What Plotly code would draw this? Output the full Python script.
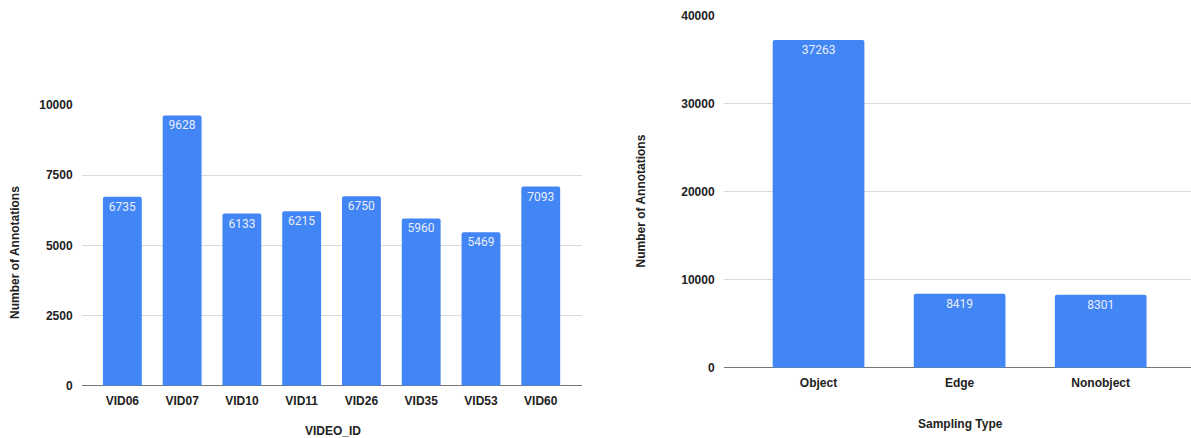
import plotly.graph_objects as go

# Left chart data
video_ids = ["VID06", "VID07", "VID10", "VID11", "VID26", "VID35", "VID53", "VID60"]
video_counts = [6735, 9628, 6133, 6215, 6750, 5960, 5469, 7093]
left_ticks = [0, 2500, 5000, 7500, 10000]

# Right chart data
sampling_types = ["Object", "Edge", "Nonobject"]
sampling_counts = [37263, 8419, 8301]
right_ticks = [0, 10000, 20000, 30000, 40000]

W, H = 1191, 438
BLUE = "#4285f4"
GRID = "#dadada"
TICKFONT = dict(family="Liberation Sans, Arial, sans-serif", size=12, color="#222222")
LABELFONT = dict(family="Roboto, sans-serif", size=12, color="#e8effc")

def px_x(x):
    return x / W

def px_y(y):
    return 1 - y / H

fig = go.Figure()

fig.add_trace(go.Bar(
    x=video_ids, y=video_counts, xaxis="x", yaxis="y",
    marker=dict(color=BLUE, cornerradius=2, line=dict(width=0)),
    width=0.65,
    text=[str(v) for v in video_counts], textposition="inside",
    insidetextanchor="end", textangle=0, textfont=LABELFONT,
    constraintext="none", showlegend=False, hoverinfo="x+y",
))

fig.add_trace(go.Bar(
    x=sampling_types, y=sampling_counts, xaxis="x2", yaxis="y2",
    marker=dict(color=BLUE, cornerradius=2, line=dict(width=0)),
    width=0.65,
    text=[str(v) for v in sampling_counts], textposition="inside",
    insidetextanchor="end", textangle=0, textfont=LABELFONT,
    constraintext="none", showlegend=False, hoverinfo="x+y",
))

def yaxis_cfg(domain, rng, ticks):
    return dict(
        domain=domain, range=rng, tickvals=ticks,
        ticktext=[f"<b>{t}</b>" for t in ticks],
        tickfont=TICKFONT, showgrid=True, gridcolor=GRID, gridwidth=1,
        zeroline=True, zerolinecolor="#777777", zerolinewidth=1,
        showline=False, ticks="outside", ticklen=6, tickcolor="rgba(0,0,0,0)",
        fixedrange=True, automargin=False,
    )

def xaxis_cfg(domain, rng, cats):
    return dict(
        domain=domain, range=rng, type="category",
        tickvals=cats, ticktext=[f"<b>{c}</b>" for c in cats],
        tickfont=TICKFONT, showgrid=False, showline=False, zeroline=False,
        ticks="outside", ticklen=4, tickcolor="rgba(0,0,0,0)",
        fixedrange=True, automargin=False,
    )

fig.update_layout(
    width=W, height=H, autosize=False,
    margin=dict(l=0, r=0, t=0, b=0, pad=0, autoexpand=False),
    paper_bgcolor="white", plot_bgcolor="white",
    bargap=0.35,
    xaxis=xaxis_cfg([px_x(82), px_x(582)], [-0.675, 7.69], video_ids),
    yaxis=yaxis_cfg([px_y(385.7), px_y(105)], [0, 10000], left_ticks),
    xaxis2=xaxis_cfg([px_x(724), 1.0], [-0.67, 2.64], sampling_types),
    yaxis2=yaxis_cfg([px_y(367.7), px_y(16)], [0, 40000], right_ticks),
)
fig.layout.yaxis2.anchor = "x2"
fig.layout.xaxis2.anchor = "y2"

title_font = dict(family="Liberation Sans, Arial, sans-serif", size=12, color="#222222")
annos = [
    dict(text="<b>VIDEO_ID</b>", x=px_x(332.5), y=px_y(431), textangle=0),
    dict(text="<b>Number of Annotations</b>", x=px_x(15), y=px_y(253), textangle=-90),
    dict(text="<b>Sampling Type</b>", x=px_x(960), y=px_y(424), textangle=0),
    dict(text="<b>Number of Annotations</b>", x=px_x(640), y=px_y(201.5), textangle=-90),
]
for a in annos:
    fig.add_annotation(xref="paper", yref="paper", showarrow=False,
                       xanchor="center", yanchor="middle", font=title_font, **a)

post = (
    "var s=document.createElement('style');"
    "s.textContent='html,body{margin:0!important;padding:0!important;overflow:hidden!important;}"
    "body>div{margin:0;padding:0;line-height:0;font-size:0;}';"
    "document.head.appendChild(s);"
)

fig.write_html("out.html", post_script=post, config={"displayModeBar": False})
